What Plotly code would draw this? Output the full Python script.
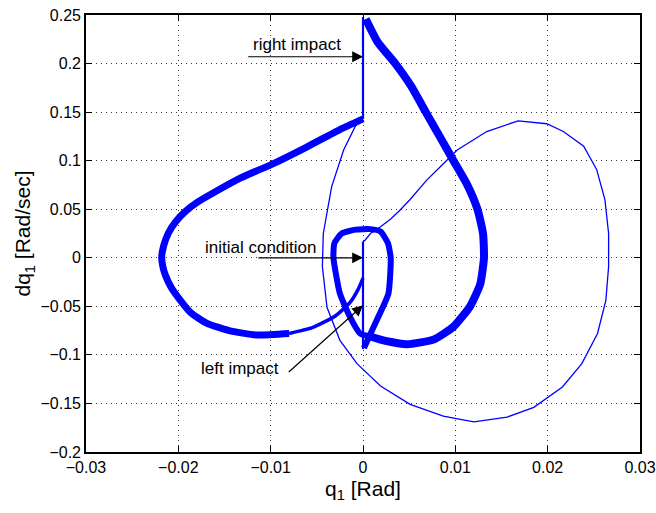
import plotly.graph_objects as go

# ---------------- data (q1 [rad], dq1 [rad/s]) ----------------
# steady-state cycle, part 1: just after left impact, left loop (thin start)
left_start_q = [0.0, -0.0005, -0.0014, -0.0030, -0.0055, -0.0080]
left_start_dq = [-0.021, -0.032, -0.046, -0.060, -0.072, -0.078]

# steady-state cycle, part 2: big left loop up to the right impact
left_loop_q = [-0.0080, -0.0115, -0.0145, -0.0169, -0.0186, -0.0198, -0.0208, -0.0214, -0.0217,
               -0.0218, -0.0216, -0.0211, -0.0203, -0.0192, -0.0178, -0.0160, -0.0133, -0.0097,
               -0.0061, -0.0025, 0.0]
left_loop_dq = [-0.078, -0.0795, -0.075, -0.0675, -0.057, -0.0435, -0.030, -0.018, -0.008,
                0.001, 0.012, 0.025, 0.037, 0.048, 0.058, 0.068, 0.082, 0.097,
                0.114, 0.132, 0.143]

# right impact jump
right_impact_q = [0.0, 0.0]
right_impact_dq = [0.143, 0.248]

# steady-state cycle, part 3: right tear-drop
tear_q = [0.0003, 0.0016, 0.0035, 0.0052, 0.0068, 0.0083, 0.0098, 0.0113, 0.0124, 0.0130,
          0.0131, 0.0127, 0.0116, 0.0098, 0.0077, 0.0048, 0.0022, 0.0008]
tear_dq = [0.246, 0.222, 0.200, 0.177, 0.150, 0.125, 0.100, 0.075, 0.050, 0.025,
           0.0, -0.027, -0.050, -0.071, -0.084, -0.089, -0.085, -0.081]

# steady-state cycle, part 4: small loop around the origin
small_q = [0.0008, -0.0003, -0.0014, -0.0025, -0.0032, -0.0031, -0.0023, -0.0008, 0.0008,
           0.0019, 0.0027, 0.0030, 0.00275, 0.0015, 0.0001]
small_dq = [-0.081, -0.078, -0.061, -0.037, 0.0, 0.015, 0.025, 0.029, 0.0295,
            0.027, 0.015, 0.0, -0.037, -0.064, -0.093]

# left impact jump (and initial vertical segment)
left_impact_q = [0.0, 0.0]
left_impact_dq = [-0.094, 0.0166]

# transient from the initial condition (thin line)
trans_q = [0.0, 0.00025, 0.0008, 0.0019, 0.0030, 0.0040, 0.0051, 0.0069, 0.0084, 0.0102,
           0.0134, 0.0168, 0.0199, 0.0217, 0.0239, 0.0253, 0.0262, 0.0266, 0.0266, 0.0263,
           0.0254, 0.0237, 0.0216, 0.0185, 0.0156, 0.0120, 0.0087, 0.0051, 0.0019,
           -0.00065, -0.0025, -0.0039, -0.0044, -0.0043, -0.0034, -0.0021, -0.0008, 0.0]
trans_dq = [0.0166, 0.0183, 0.025, 0.032, 0.040, 0.049, 0.060, 0.080, 0.094, 0.111,
            0.130, 0.141, 0.138, 0.130, 0.115, 0.091, 0.060, 0.025, -0.009, -0.044,
            -0.078, -0.109, -0.133, -0.154, -0.164, -0.169, -0.163, -0.151, -0.132,
            -0.109, -0.085, -0.051, -0.009, 0.025, 0.073, 0.111, 0.136, 0.144]

# axis ticks
x_ticks = [-0.03, -0.02, -0.01, 0.0, 0.01, 0.02, 0.03]
x_labels = ["\u22120.03", "\u22120.02", "\u22120.01", "0", "0.01", "0.02", "0.03"]
y_ticks = [-0.2, -0.15, -0.1, -0.05, 0.0, 0.05, 0.1, 0.15, 0.2, 0.25]
y_labels = ["\u22120.2", "\u22120.15", "\u22120.1", "\u22120.05", "0", "0.05", "0.1", "0.15", "0.2", "0.25"]

BLUE = "#0000ff"
FONT = "Liberation Sans, Arial, Helvetica, sans-serif"

fig = go.Figure()

def add(q, dq, w, shape="spline"):
    fig.add_trace(go.Scatter(x=q, y=dq, mode="lines",
                             line=dict(color=BLUE, width=w, shape=shape, smoothing=0.5),
                             hoverinfo="skip", showlegend=False))

add(trans_q, trans_dq, 1.3, "linear")
add(left_impact_q, left_impact_dq, 2.2, "linear")
add(right_impact_q, right_impact_dq, 2.2, "linear")
add(left_start_q, left_start_dq, 3.5)
add(left_loop_q, left_loop_dq, 7)
add(tear_q, tear_dq, 8)
add(small_q, small_dq, 6)

axis_common = dict(showline=True, linecolor="black", linewidth=1.6, mirror="ticks",
                   ticks="inside", ticklen=6, tickwidth=1.2, tickcolor="black",
                   showgrid=True, gridcolor="#333333", gridwidth=1, griddash="1px,4px",
                   zeroline=False, automargin=False,
                   tickfont=dict(family=FONT, size=16, color="black"))

fig.update_xaxes(range=[-0.03, 0.03], tickvals=x_ticks, ticktext=x_labels,
                 title=dict(text="q<sub>1</sub> [Rad]", font=dict(family=FONT, size=21, color="black"),
                            standoff=6), **axis_common)
fig.update_yaxes(range=[-0.2, 0.25], tickvals=y_ticks, ticktext=y_labels,
                 title=dict(text="dq<sub>1</sub> [Rad/sec]", font=dict(family=FONT, size=21, color="black"),
                            standoff=4), **axis_common)

arrow = dict(showarrow=True, arrowhead=2, arrowsize=1.8, arrowwidth=1.2, arrowcolor="black",
             axref="x", ayref="y", xref="x", yref="y", text="")
fig.add_annotation(x=0.0, y=0.207, ax=-0.0126, ay=0.207, **arrow)
fig.add_annotation(x=0.0, y=0.0, ax=-0.0115, ay=0.0, **arrow)
fig.add_annotation(x=0.0, y=-0.049, ax=-0.0082, ay=-0.119, **arrow)

txt = dict(showarrow=False, xref="x", yref="y", font=dict(family=FONT, size=17, color="black"))
fig.add_annotation(x=-0.0072, y=0.220, text="right impact", **txt)
fig.add_annotation(x=-0.0110, y=0.0105, text="initial condition", **txt)
fig.add_annotation(x=-0.0133, y=-0.1145, text="left impact", **txt)

fig.update_layout(width=656, height=513, margin=dict(l=86, r=16, t=15, b=61),
                  paper_bgcolor="white", plot_bgcolor="white", showlegend=False,
                  font=dict(family=FONT, size=16, color="black"))

fig.write_html("out.html")
